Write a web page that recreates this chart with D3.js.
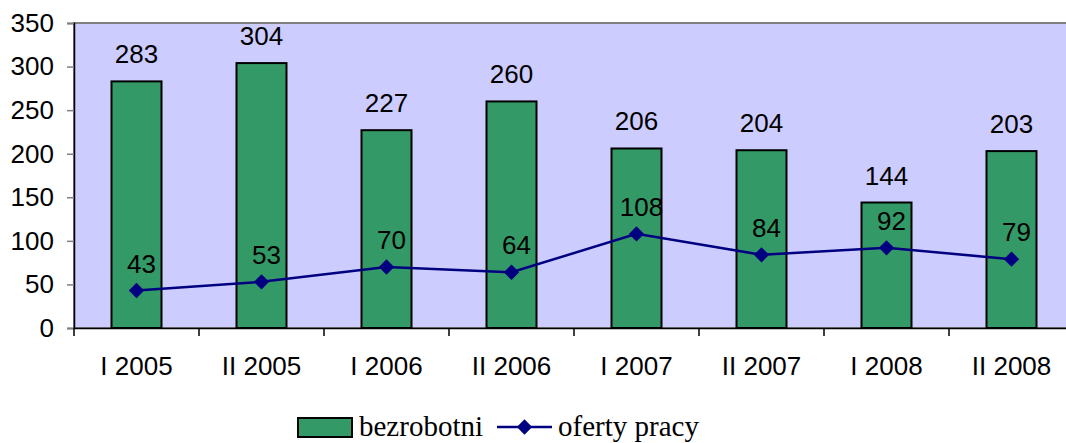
<!DOCTYPE html>
<html><head><meta charset="utf-8">
<script src="https://cdn.jsdelivr.net/npm/d3@7"></script>
<style>html,body{margin:0;padding:0;background:#fff;overflow:hidden}svg{display:block}</style>
</head><body>
<svg id="c" width="1066" height="443"></svg>
<script>
const categories = ["I 2005","II 2005","I 2006","II 2006","I 2007","II 2007","I 2008","II 2008"];
const bezrobotni = [283,304,227,260,206,204,144,203];
const oferty = [43,53,70,64,108,84,92,79];
const yTicks = [0,50,100,150,200,250,300,350];
const seriesNames = ["bezrobotni","oferty pracy"];

const svg = d3.select("#c");
const L = 74, R = 1074, T = 23, B = 328;
const x = d3.scaleBand().domain(categories).range([L, R]).paddingInner(0.6).paddingOuter(0.3);
const xc = d3.scaleBand().domain(categories).range([L, R]);
const y = d3.scaleLinear().domain([0, 350]).range([B, T]);
const sans = "Liberation Sans, Arial, sans-serif";
const fs = 26;

svg.append("rect").attr("x", L).attr("y", T).attr("width", R - L).attr("height", B - T)
  .attr("fill", "#CCCCFF").attr("stroke", "#808080").attr("stroke-width", 2);

// y axis
const ya = svg.append("g").attr("transform", `translate(${L},0)`)
  .call(d3.axisLeft(y).tickValues(yTicks).tickSize(7).tickPadding(13));
ya.select(".domain").attr("stroke", "#000").attr("stroke-width", 1.5);
ya.selectAll(".tick line").attr("stroke", "#808080").attr("stroke-width", 1.5);
ya.selectAll(".tick text").attr("font-family", sans).attr("font-size", fs).attr("fill", "#000");

// bars
svg.selectAll("rect.bar").data(bezrobotni).enter().append("rect").attr("class", "bar")
  .attr("x", (d, i) => x(categories[i])).attr("width", x.bandwidth())
  .attr("y", d => y(d)).attr("height", d => B - y(d))
  .attr("fill", "#339966").attr("stroke", "#000").attr("stroke-width", 2);

// x axis
const xa = svg.append("g").attr("transform", `translate(0,${B})`)
  .call(d3.axisBottom(xc).tickSize(0).tickPadding(29));
xa.select(".domain").attr("stroke", "#000").attr("stroke-width", 1.5);
xa.selectAll(".tick text").attr("font-family", sans).attr("font-size", fs).attr("fill", "#000");
svg.append("g").selectAll("line").data(d3.range(categories.length + 1)).enter().append("line")
  .attr("x1", i => L + i * xc.step()).attr("x2", i => L + i * xc.step())
  .attr("y1", B).attr("y2", B + 8).attr("stroke", "#000").attr("stroke-width", 1.5);

// bar labels
svg.selectAll("text.bl").data(bezrobotni).enter().append("text").attr("class", "bl")
  .attr("x", (d, i) => xc(categories[i]) + xc.bandwidth() / 2).attr("y", d => y(d) - 18)
  .attr("text-anchor", "middle").attr("font-family", sans).attr("font-size", fs).text(d => d);

// line
const cx = i => xc(categories[i]) + xc.bandwidth() / 2;
svg.append("path").datum(oferty)
  .attr("d", d3.line().x((d, i) => cx(i)).y(d => y(d)))
  .attr("fill", "none").attr("stroke", "#000080").attr("stroke-width", 2.5);
svg.selectAll("path.mk").data(oferty).enter().append("path").attr("class", "mk")
  .attr("d", d3.symbol().type(d3.symbolDiamond2).size(150))
  .attr("transform", (d, i) => `translate(${cx(i)},${y(d)})`)
  .attr("fill", "#000080");
svg.selectAll("text.ll").data(oferty).enter().append("text").attr("class", "ll")
  .attr("x", (d, i) => cx(i) + 5).attr("y", d => y(d) - 18)
  .attr("text-anchor", "middle").attr("font-family", sans).attr("font-size", fs).text(d => d);

// legend
const serif = "Liberation Serif, Times New Roman, serif";
const lg = svg.append("g");
lg.append("rect").attr("x", 298).attr("y", 418).attr("width", 54).attr("height", 19)
  .attr("fill", "#339966").attr("stroke", "#000").attr("stroke-width", 2);
lg.append("text").attr("x", 359).attr("y", 436).attr("font-family", serif).attr("font-size", 29).text(seriesNames[0]);
lg.append("line").attr("x1", 497).attr("x2", 552).attr("y1", 427).attr("y2", 427)
  .attr("stroke", "#000080").attr("stroke-width", 2.5);
lg.append("path").attr("d", d3.symbol().type(d3.symbolDiamond2).size(150))
  .attr("transform", "translate(524.5,427)").attr("fill", "#000080");
lg.append("text").attr("x", 558).attr("y", 436).attr("font-family", serif).attr("font-size", 29).text(seriesNames[1]);
</script>
</body></html>
